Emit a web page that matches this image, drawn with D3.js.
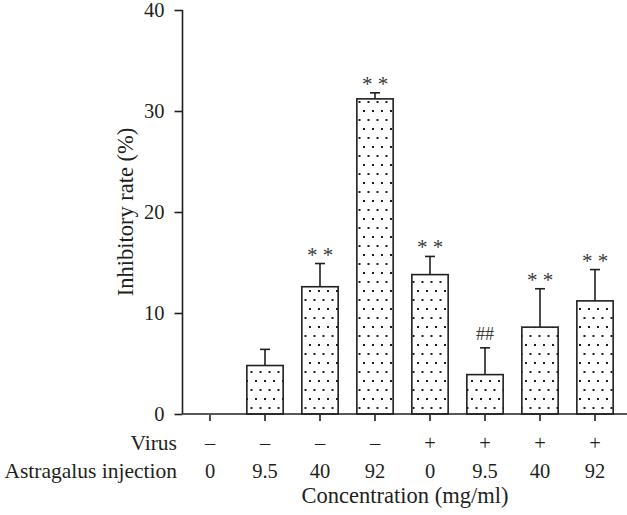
<!DOCTYPE html>
<html><head><meta charset="utf-8">
<script src="https://cdn.jsdelivr.net/npm/d3@7"></script>
<style>body{margin:0;background:#fff}svg{display:block}svg text{font-family:'Liberation Serif','DejaVu Serif',serif !important;}</style>
</head><body><svg id="c" width="627" height="515"></svg>
<script>
const virus = ["–","–","–","–","+","+","+","+"];
const astragalus = ["0","9.5","40","92","0","9.5","40","92"];
const values = [0, 4.8, 12.6, 31.2, 13.8, 3.9, 8.6, 11.2];
const errors = [0, 1.6, 2.3, 0.6, 1.8, 2.65, 3.8, 3.1];
const marks = ["", "", "* *", "* *", "* *", "##", "* *", "* *"];
const yTicks = [0, 10, 20, 30, 40];

const FONT = "'Liberation Serif','DejaVu Serif',serif";
const ink = "#231f20";
const svg = d3.select("#c");
const ids = d3.range(values.length);
const x = d3.scaleBand().domain(ids).range([182.5, 622.5]).paddingInner(0.34).paddingOuter(0.17);
const y = d3.scaleLinear().domain([0, 40]).range([414, 10]);
const cxOf = i => Math.round(x(i) + x.bandwidth()/2);

function txt(sel, size){ return sel.attr("font-family",FONT).attr("font-size",size).attr("fill",ink); }

const defs = svg.append("defs");
const pat = defs.append("pattern").attr("id","dots").attr("patternUnits","userSpaceOnUse")
  .attr("width",9).attr("height",18).attr("x",3).attr("y",2);
pat.append("rect").attr("width",9).attr("height",18).attr("fill","#fff");
pat.append("rect").attr("x",0).attr("y",0).attr("width",2).attr("height",2).attr("fill",ink);
pat.append("rect").attr("x",4.5).attr("y",9).attr("width",2).attr("height",2).attr("fill",ink);

// bars
svg.append("g").selectAll("rect").data(ids.filter(i=>values[i]>0)).join("rect")
  .attr("x", i=>x(i)).attr("width", x.bandwidth())
  .attr("y", i=>y(values[i])).attr("height", i=>y(0)-y(values[i]))
  .attr("fill","url(#dots)").attr("stroke",ink).attr("stroke-width",1.6);

// error bars
const eg = svg.append("g").attr("stroke",ink).attr("stroke-width",1.6);
ids.filter(i=>errors[i]>0).forEach(i=>{
  const cx = x(i)+x.bandwidth()/2;
  eg.append("line").attr("x1",cx).attr("x2",cx).attr("y1",y(values[i])).attr("y2",y(values[i]+errors[i]));
  eg.append("line").attr("x1",cx-5).attr("x2",cx+5).attr("y1",y(values[i]+errors[i])).attr("y2",y(values[i]+errors[i]));
});

// annotations
txt(svg.append("g").selectAll("text").data(ids.filter(i=>marks[i])).join("text"), 20)
  .attr("x", cxOf)
  .attr("y", i=>y(values[i]+errors[i]) - (marks[i]==="##" ? 8 : 2))
  .attr("text-anchor","middle")
  .attr("font-size", i=> marks[i]==="##" ? 18 : 21)
  .attr("fill","#3a3a3a")
  .text(i=>marks[i]);

// y axis
const ya = svg.append("g").attr("transform","translate(182.5,0)")
  .call(d3.axisLeft(y).tickValues(yTicks).tickSize(8).tickPadding(10).tickSizeOuter(0));
ya.attr("font-family",FONT);
ya.select(".domain").attr("stroke",ink).attr("stroke-width",1.6).attr("d","M0,10V414");
ya.selectAll(".tick line").attr("stroke",ink).attr("stroke-width",1.6);
txt(ya.selectAll(".tick text"), 20.5);

// x axis
const xa = svg.append("g").attr("transform","translate(0,414)")
  .call(d3.axisBottom(x).tickSize(7).tickFormat(""));
xa.select(".domain").attr("stroke",ink).attr("stroke-width",1.6).attr("d","M182.5,0H627");
xa.selectAll(".tick line").attr("stroke",ink).attr("stroke-width",1.6).attr("y1",1);

// category rows
txt(svg.append("g").selectAll("text").data(ids).join("text"), 20.5)
  .attr("x", cxOf).attr("y",450).attr("text-anchor","middle").text(i=>virus[i]);
txt(svg.append("g").selectAll("text").data(ids).join("text"), 20.5)
  .attr("x", cxOf).attr("y",478).attr("text-anchor","middle").text(i=>astragalus[i]);
txt(svg.append("text"), 21.5).attr("x",177).attr("y",450).attr("text-anchor","end").text("Virus");
txt(svg.append("text"), 21.5).attr("x",177).attr("y",478).attr("text-anchor","end").text("Astragalus injection");

// titles
txt(svg.append("text"), 22.5).attr("x",405).attr("y",503).attr("text-anchor","middle").text("Concentration (mg/ml)");
txt(svg.append("text"), 22.5).attr("transform","translate(133,212) rotate(-90)").attr("text-anchor","middle").text("Inhibitory rate (%)");
</script></body></html>
